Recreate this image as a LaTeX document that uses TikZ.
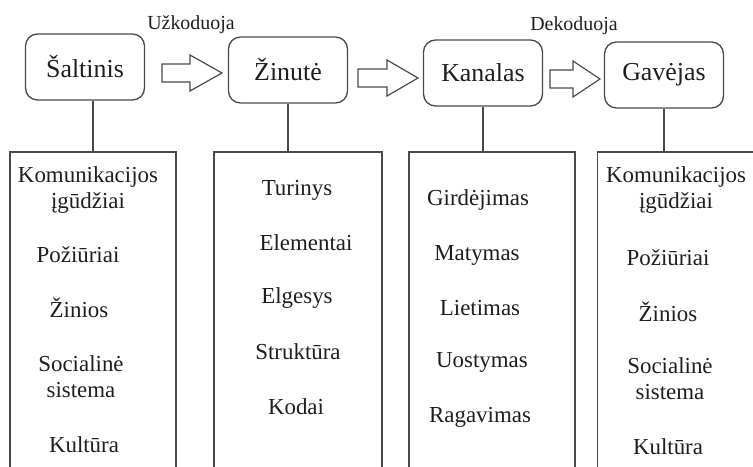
\documentclass[tikz,border=0pt]{standalone}
\usepackage{fontspec}
\setmainfont{LiberationSerif}[Extension=.ttf, UprightFont=*-Regular, BoldFont=*-Bold]
\usepackage{xcolor}
\usetikzlibrary{positioning}
\definecolor{linegray}{HTML}{4A4A4A}
\definecolor{textgray}{HTML}{1E1E1E}
% block arrow: start x, head x, tip x, middle y
\newcommand{\flowarrow}[4]{%
	\draw[flow] (#1,#4-9) -- (#2,#4-9) -- (#2,#4-18) -- (#3,#4) -- (#2,#4+18) -- (#2,#4+9) -- (#1,#4+9) -- cycle;}
\begin{document}
\begin{tikzpicture}[x=1bp,y=-1bp,
		stage/.style={draw=linegray, line width=1.3bp, rounded corners=12bp, minimum width=119bp, minimum height=66bp, inner sep=0pt, text=textgray, font=\rmfamily\fontsize{26}{30}\selectfont},
		panel/.style={draw=linegray, line width=1.3bp, minimum height=330bp, inner sep=0pt},
		item/.style={align=center, text=textgray, font=\rmfamily\fontsize{23}{26}\selectfont},
		verb/.style={text=textgray, font=\rmfamily\fontsize{20}{24}\selectfont},
		flow/.style={draw=linegray, line width=1.2bp, line join=miter},
		link/.style={draw=linegray, line width=1.3bp}
		]
		\useasboundingbox (0,0) rectangle (753,467);
		\clip (0,0) rectangle (753,467);
	
		% Etapai
		\node[stage] (src) at (85, 67) {Šaltinis};
		\node[stage] (msg) at (288, 70) {Žinutė};
		\node[stage] (chan) at (483, 73) {Kanalas};
		\node[stage] (recv) at (664, 75) {Gavėjas};
	
		\node[verb] (enc) at (191, 25) {Užkoduoja};
		\node[verb] (dec) at (574, 26) {Dekoduoja};
	
		% Rodyklės
		\flowarrow{162}{190}{222}{73}
		\flowarrow{358}{387}{418}{78}
		\flowarrow{550}{573}{600}{79}
	
		% Sąrašai
		\node[panel, minimum width=166bp] (srcbox) at (93, 317) {};
		\node[panel, minimum width=168bp] (msgbox) at (298, 317) {};
		\node[panel, minimum width=166bp] (chanbox) at (492, 317) {};
		\node[panel, minimum width=177bp] (recvbox) at (686, 317) {};
	
		\draw[link] (srcbox.north) -- (srcbox.north |- src.south);
		\draw[link] (msg.south) -- (msg.south |- msgbox.north);
		\draw[link] (chan.south) -- (chan.south |- chanbox.north);
		\draw[link] (recv.south) -- (recv.south |- recvbox.north);
	
		% Šaltinis
		\node[item] (s1) at (88, 190) {Komunikacijos\\įgūdžiai};
		\node[item] (s2) at (78, 255) {Požiūriai};
		\node[item] (s3) at (79, 308) {Žinios};
		\node[item] (s4) at (81, 377) {Socialinė\\sistema};
		\node[item] (s5) at (84, 445) {Kultūra};
	
		% Žinutė
		\node[item] (m1) at (297, 190) {Turinys};
		\node[item] (m2) at (306, 243) {Elementai};
		\node[item] (m3) at (297, 298) {Elgesys};
		\node[item] (m4) at (298, 352) {Struktūra};
		\node[item] (m5) at (296, 407) {Kodai};
	
		% Kanalas
		\node[item] (c1) at (478, 200) {Girdėjimas};
		\node[item] (c2) at (477, 255) {Matymas};
		\node[item] (c3) at (480, 308) {Lietimas};
		\node[item] (c4) at (482, 362) {Uostymas};
		\node[item] (c5) at (480, 417) {Ragavimas};
	
		% Gavėjas
		\node[item] (r1) at (676, 190) {Komunikacijos\\įgūdžiai};
		\node[item] (r2) at (668, 258) {Požiūriai};
		\node[item] (r3) at (668, 312) {Žinios};
		\node[item] (r4) at (670, 379) {Socialinė\\sistema};
		\node[item] (r5) at (668, 447) {Kultūra};
	\end{tikzpicture}
\end{document}
